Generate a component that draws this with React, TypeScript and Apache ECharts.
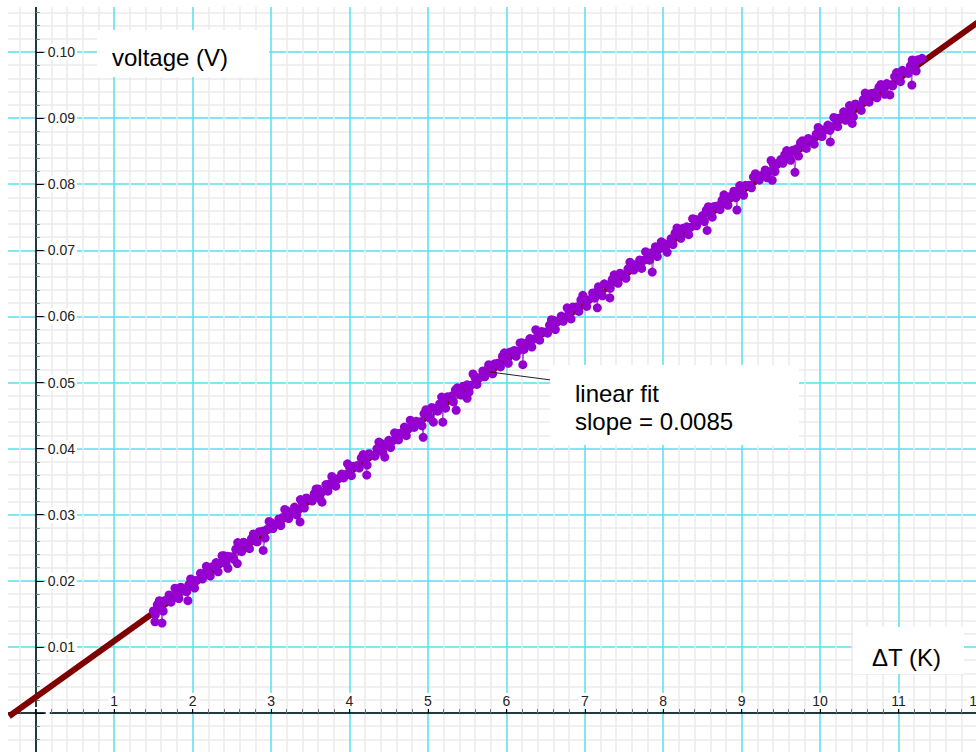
import React, { useEffect, useRef } from "react";
import * as echarts from "echarts";

// linear fit endpoints (ΔT in K, voltage in V)
const fitX = [-0.34, 12.6];
const fitY = [-0.0005, 0.1095];

// measured points [ΔT (K), voltage (V)]
const measured: number[][] = [
  [1.5, 0.01545], [1.55, 0.01638], [1.6, 0.0158], [1.65, 0.01703], [1.7, 0.01785], [1.75, 0.01738], [1.8, 0.0182], [1.85, 0.01903], [1.9, 0.01845], [1.95, 0.01938],
  [2.0, 0.0201], [2.05, 0.02003], [2.1, 0.02115], [2.15, 0.02108], [2.2, 0.021], [2.25, 0.02213], [2.3, 0.02275], [2.35, 0.02268], [2.4, 0.0238], [2.45, 0.02373],
  [2.5, 0.02365], [2.55, 0.02478], [2.6, 0.0249], [2.65, 0.02583], [2.7, 0.02555], [2.75, 0.02638], [2.8, 0.026], [2.85, 0.02743], [2.9, 0.02755], [2.95, 0.02778],
  [3.0, 0.0288], [3.05, 0.02843], [3.1, 0.02935], [3.15, 0.02958], [3.2, 0.0306], [3.25, 0.03033], [3.3, 0.03115], [3.35, 0.03078], [3.4, 0.0318], [3.45, 0.03253],
  [3.5, 0.03235], [3.55, 0.03318], [3.6, 0.0339], [3.65, 0.03343], [3.7, 0.03455], [3.75, 0.03468], [3.8, 0.0355], [3.85, 0.03543], [3.9, 0.03615], [3.95, 0.03608],
  [4.0, 0.0372], [4.05, 0.03733], [4.1, 0.03745], [4.15, 0.03858], [4.2, 0.0385], [4.25, 0.03923], [4.3, 0.03895], [4.35, 0.03998], [4.4, 0.0408], [4.45, 0.04053],
  [4.5, 0.04125], [4.55, 0.04118], [4.6, 0.0423], [4.65, 0.04233], [4.7, 0.04325], [4.75, 0.04298], [4.8, 0.0439], [4.85, 0.04413], [4.9, 0.04405], [4.95, 0.04528],
  [5.0, 0.0453], [5.05, 0.04623], [5.1, 0.04605], [5.15, 0.04678], [5.2, 0.0467], [5.25, 0.04783], [5.3, 0.04795], [5.35, 0.04888], [5.4, 0.0485], [5.45, 0.04943],
  [5.5, 0.04965], [5.55, 0.04958], [5.6, 0.0508], [5.65, 0.05073], [5.7, 0.05175], [5.75, 0.05188], [5.8, 0.0519], [5.85, 0.05283], [5.9, 0.05295], [5.95, 0.05398],
  [6.0, 0.0537], [6.05, 0.05463], [6.1, 0.05485], [6.15, 0.05478], [6.2, 0.056], [6.25, 0.05593], [6.3, 0.05665], [6.35, 0.05658], [6.4, 0.0576], [6.45, 0.05773],
  [6.5, 0.05765], [6.55, 0.05868], [6.6, 0.0594], [6.65, 0.05923], [6.7, 0.06005], [6.75, 0.05988], [6.8, 0.0607], [6.85, 0.06143], [6.9, 0.06145], [6.95, 0.06248],
  [7.0, 0.0625], [7.05, 0.06253], [7.1, 0.06355], [7.15, 0.06368], [7.2, 0.0636], [7.25, 0.06493], [7.3, 0.06475], [7.35, 0.06558], [7.4, 0.0657], [7.45, 0.06653],
  [7.5, 0.06625], [7.55, 0.06718], [7.6, 0.0679], [7.65, 0.06783], [7.7, 0.06855], [7.75, 0.06848], [7.8, 0.0695], [7.85, 0.06963], [7.9, 0.07055], [7.95, 0.07028],
  [8.0, 0.0711], [8.05, 0.07083], [8.1, 0.07175], [8.15, 0.07258], [8.2, 0.0724], [8.25, 0.07333], [8.3, 0.07355], [8.35, 0.07348], [8.4, 0.0747], [8.45, 0.07463],
  [8.5, 0.07525], [8.55, 0.07608], [8.6, 0.0757], [8.65, 0.07663], [8.7, 0.07675], [8.75, 0.07758], [8.8, 0.0772], [8.85, 0.07813], [8.9, 0.07895], [8.95, 0.07878],
  [9.0, 0.0797], [9.05, 0.07983], [9.1, 0.07985], [9.15, 0.08108], [9.2, 0.0812], [9.25, 0.08133], [9.3, 0.08215], [9.35, 0.08188], [9.4, 0.0831], [9.45, 0.08313],
  [9.5, 0.08375], [9.55, 0.08448], [9.6, 0.0842], [9.65, 0.08513], [9.7, 0.08535], [9.75, 0.08628], [9.8, 0.086], [9.85, 0.08693], [9.9, 0.08665], [9.95, 0.08758],
  [10.0, 0.0883], [10.05, 0.08823], [10.1, 0.08895], [10.15, 0.08868], [10.2, 0.0899], [10.25, 0.09003], [10.3, 0.09095], [10.35, 0.09058], [10.4, 0.0914], [10.45, 0.09213],
  [10.5, 0.09195], [10.55, 0.09278], [10.6, 0.0926], [10.65, 0.09373], [10.7, 0.09385], [10.75, 0.09468], [10.8, 0.0946], [10.85, 0.09523], [10.9, 0.09505], [10.95, 0.09628],
  [11.0, 0.0964], [11.05, 0.09723], [11.1, 0.09695], [11.15, 0.09788], [11.2, 0.098], [11.25, 0.09883], [11.3, 0.09905],
];

// readings slightly below the fit
const measuredLow: number[][] = [
  [1.525, 0.01486], [1.625, 0.01541], [1.725, 0.01676], [1.825, 0.01731], [1.925, 0.01836], [2.025, 0.01891], [2.125, 0.02026], [2.225, 0.02071], [2.325, 0.02136], [2.425, 0.02261],
  [2.525, 0.02326], [2.625, 0.02441], [2.725, 0.02486], [2.825, 0.02591], [2.925, 0.02646], [3.025, 0.02791], [3.125, 0.02836], [3.225, 0.02941], [3.325, 0.02996], [3.425, 0.03101],
  [3.525, 0.03206], [3.625, 0.03241], [3.725, 0.03356], [3.825, 0.03431], [3.925, 0.03556], [4.025, 0.03591], [4.125, 0.03706], [4.225, 0.03751], [4.325, 0.03886], [4.425, 0.03941],
  [4.525, 0.04016], [4.625, 0.04131], [4.725, 0.04196], [4.825, 0.04321], [4.925, 0.04346], [5.025, 0.04461], [5.125, 0.04566], [5.225, 0.04611], [5.325, 0.04706], [5.425, 0.04811],
  [5.525, 0.04856], [5.625, 0.04971], [5.725, 0.05086], [5.825, 0.05131], [5.925, 0.05236], [6.025, 0.05291], [6.125, 0.05396], [6.225, 0.05501], [6.325, 0.05536], [6.425, 0.05641],
  [6.525, 0.05746], [6.625, 0.05801], [6.725, 0.05926], [6.825, 0.05961], [6.925, 0.06076], [7.025, 0.06151], [7.125, 0.06276], [7.225, 0.06311], [7.325, 0.06426], [7.425, 0.06501],
  [7.525, 0.06576], [7.625, 0.06701], [7.725, 0.06726], [7.825, 0.06851], [7.925, 0.06906], [8.025, 0.07031], [8.125, 0.07086], [8.225, 0.07181], [8.325, 0.07236], [8.425, 0.07371],
  [8.525, 0.07436], [8.625, 0.07501], [8.725, 0.07616], [8.825, 0.07681], [8.925, 0.07796], [9.025, 0.07831], [9.125, 0.07946], [9.225, 0.08061], [9.325, 0.08096], [9.425, 0.08191],
  [9.525, 0.08316], [9.625, 0.08361], [9.725, 0.08426], [9.825, 0.08541], [9.925, 0.08606], [10.025, 0.08721], [10.125, 0.08816], [10.225, 0.08871], [10.325, 0.08966], [10.425, 0.09021],
  [10.525, 0.09116], [10.625, 0.09241], [10.725, 0.09306], [10.825, 0.09361], [10.925, 0.09486], [11.025, 0.09551], [11.125, 0.09676], [11.225, 0.09711],
];

// readings slightly above the fit
const measuredHigh: number[][] = [
  [1.575, 0.01699], [1.775, 0.01889], [1.975, 0.02029], [2.175, 0.02219], [2.375, 0.02379], [2.575, 0.02579], [2.775, 0.02709], [2.975, 0.02899], [3.175, 0.03079], [3.375, 0.03229],
  [3.575, 0.03389], [3.775, 0.03579], [3.975, 0.03769], [4.175, 0.03909], [4.375, 0.04099], [4.575, 0.04239], [4.775, 0.04429], [4.975, 0.04589], [5.175, 0.04779], [5.375, 0.04919],
  [5.575, 0.05129], [5.775, 0.05269], [5.975, 0.05449], [6.175, 0.05599], [6.375, 0.05799], [6.575, 0.05949], [6.775, 0.06129], [6.975, 0.06319], [7.175, 0.06449], [7.375, 0.06629],
  [7.575, 0.06819], [7.775, 0.06979], [7.975, 0.07129], [8.175, 0.07339], [8.375, 0.07479], [8.575, 0.07659], [8.775, 0.07839], [8.975, 0.07979], [9.175, 0.08159], [9.375, 0.08359],
  [9.575, 0.08509], [9.775, 0.08659], [9.975, 0.08859], [10.175, 0.09009], [10.375, 0.09189], [10.575, 0.09379], [10.775, 0.09509], [10.975, 0.09689], [11.175, 0.09879],
];

// occasional low readings
const dips: number[][] = [
  [1.52, 0.0138], [1.61, 0.0136], [1.94, 0.017], [2.45, 0.0219], [2.57, 0.0226], [2.9, 0.0246], [3.37, 0.0289],
  [3.65, 0.0319], [4.22, 0.036], [4.45, 0.0387], [4.94, 0.0417], [5.07, 0.044], [5.19, 0.044], [5.36, 0.0458],
  [5.5, 0.0476], [6.21, 0.0527], [7.16, 0.0613], [7.32, 0.0628], [7.86, 0.0667], [8.05, 0.0697], [8.56, 0.073],
  [8.94, 0.0761], [9.39, 0.0806], [9.68, 0.0818], [10.13, 0.0864], [10.41, 0.0892], [10.89, 0.0935], [11.17, 0.095],
];

const FONT = "'Liberation Sans', Arial, sans-serif";

export default function App() {
  const ref = useRef<HTMLDivElement>(null);
  useEffect(() => {
    if (!ref.current) return;
    const chart = echarts.init(ref.current, undefined, { renderer: "svg" });
    const pts = [...measured, ...measuredLow, ...measuredHigh, ...dips].sort((a, b) => a[0] - b[0]);
    const fit = fitX.map((x, i) => [x, fitY[i]]);
    const labelBase = {
      inside: true,
      color: "#222",
      fontSize: 14,
      fontFamily: FONT,
      backgroundColor: "#fff",
      padding: [1, 2],
    };
    // grid spans x -1..13 and y -0.01..0.11; axes shifted onto the zero lines
    chart.setOption({
      animation: false,
      backgroundColor: "#fff",
      grid: {
        left: -42.7,
        right: -79.4,
        top: -14.1,
        bottom: -27.1,
        containLabel: false,
        outerBoundsMode: "none",
      },
      xAxis: {
        type: "value",
        min: -1,
        max: 13,
        interval: 1,
        offset: -66.1,
        axisLine: { onZero: false, lineStyle: { color: "#000", width: 1.5 } },
        axisTick: { inside: true, length: 6, lineStyle: { color: "#000" } },
        minorTick: { show: true, splitNumber: 5, length: 4, lineStyle: { color: "#777" } },
        splitLine: { show: true, lineStyle: { color: "#5adfee", width: 1.5 } },
        minorSplitLine: { show: true, lineStyle: { color: "#ebebeb", width: 1.5 } },
        axisLabel: {
          ...labelBase,
          margin: 4,
          formatter: (v: number) => (v < 0.5 || v > 12.5 ? "" : String(Math.round(v))),
        },
      },
      yAxis: {
        type: "value",
        min: -0.01,
        max: 0.11,
        interval: 0.01,
        offset: -78.44,
        axisLine: { onZero: false, lineStyle: { color: "#000", width: 1.5 } },
        axisTick: { inside: true, length: 8, lineStyle: { color: "#000" } },
        minorTick: { show: true, splitNumber: 5, length: 4, lineStyle: { color: "#777" } },
        splitLine: { show: true, lineStyle: { color: "#5adfee", width: 1.5 } },
        minorSplitLine: { show: true, lineStyle: { color: "#ebebeb", width: 1.5 } },
        axisLabel: {
          ...labelBase,
          margin: 10,
          formatter: (v: number) => (v < 0.005 || v > 0.105 ? "" : v.toFixed(2)),
        },
      },
      series: [
        {
          type: "line",
          data: fit,
          symbol: "none",
          lineStyle: { color: "#7f0000", width: 6 },
          silent: true,
          z: 3,
        },
        {
          type: "line",
          data: pts,
          symbol: "circle",
          symbolSize: 9,
          showAllSymbol: true,
          itemStyle: { color: "#9400d0" },
          lineStyle: { color: "#a24fd8", width: 1 },
          silent: true,
          z: 4,
        },
      ],
      graphic: [
        { type: "rect", z: 100, shape: { x: 0, y: 0, width: 976, height: 7 }, style: { fill: "#fff" } },
        { type: "rect", z: 100, shape: { x: 0, y: 0, width: 8, height: 752 }, style: { fill: "#fff" } },
        { type: "rect", z: 100, shape: { x: 97, y: 30, width: 172, height: 47 }, style: { fill: "#fff" } },
        {
          type: "text", z: 101, x: 112, y: 57,
          style: { text: "voltage (V)", fill: "#000", font: `24px ${FONT}`, verticalAlign: "middle", align: "left" },
        },
        { type: "rect", z: 100, shape: { x: 853, y: 627, width: 111, height: 47 }, style: { fill: "#fff" } },
        {
          type: "text", z: 101, x: 872, y: 657,
          style: { text: "ΔT (K)", fill: "#000", font: `24px ${FONT}`, verticalAlign: "middle", align: "left" },
        },
        { type: "line", z: 100, shape: { x1: 490, y1: 372, x2: 551, y2: 380 }, style: { stroke: "#222", lineWidth: 1 } },
        { type: "rect", z: 100, shape: { x: 550, y: 365, width: 249, height: 80 }, style: { fill: "#fff" } },
        {
          type: "text", z: 101, x: 575, y: 393,
          style: { text: "linear fit", fill: "#000", font: `24px ${FONT}`, verticalAlign: "middle", align: "left" },
        },
        {
          type: "text", z: 101, x: 575, y: 421,
          style: { text: "slope = 0.0085", fill: "#000", font: `24px ${FONT}`, verticalAlign: "middle", align: "left" },
        },
      ],
    });
    return () => chart.dispose();
  }, []);
  return (
    <div
      ref={ref}
      style={{ position: "absolute", left: 0, top: 0, width: 976, height: 752, background: "#fff" }}
    />
  );
}
